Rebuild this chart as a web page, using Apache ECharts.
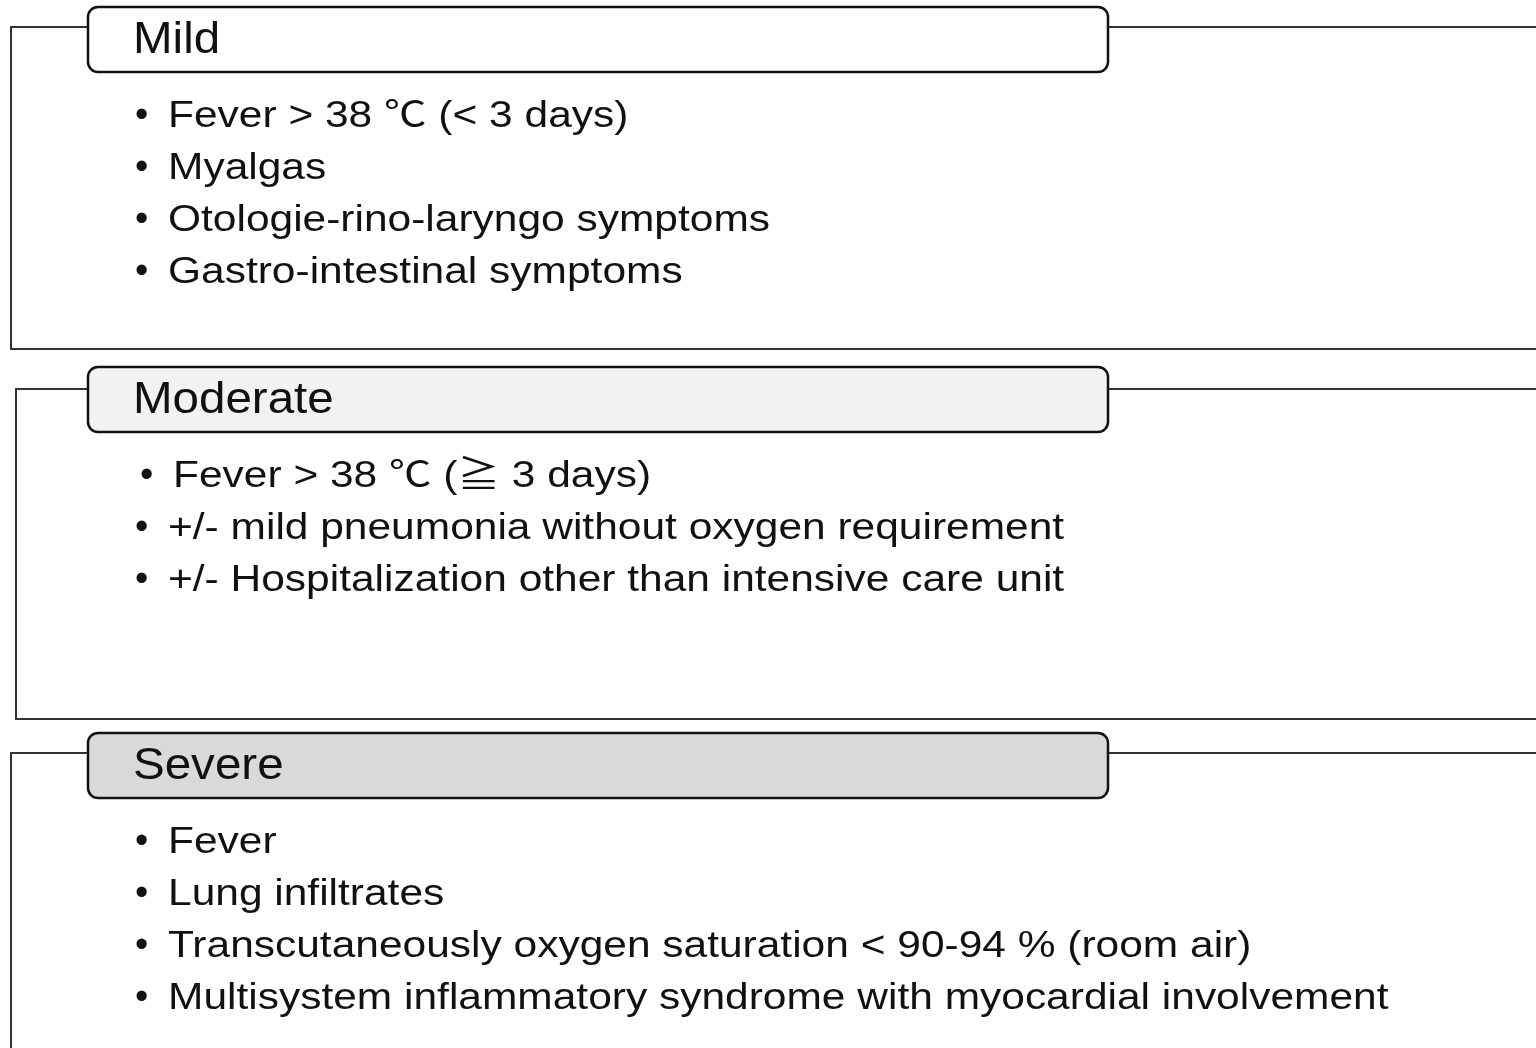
<!DOCTYPE html>
<html>
<head>
<meta charset="utf-8">
<title>Severity</title>
<script src="https://cdn.jsdelivr.net/npm/echarts@6/dist/echarts.min.js"></script>
<style>
html,body{margin:0;padding:0;background:#fff;}
#main{width:1536px;height:1048px;}
</style>
</head>
<body>
<div id="main"></div>
<script type="text/javascript">
// data
var levels = ['Mild', 'Moderate', 'Severe'];
var mildItems = [
    'Fever > 38 ℃ (< 3 days)',
    'Myalgas',
    'Otologie-rino-laryngo symptoms',
    'Gastro-intestinal symptoms'
];
var moderateItems = [
    'Fever > 38 ℃ (≧ 3 days)',
    '+/- mild pneumonia without oxygen requirement',
    '+/- Hospitalization other than intensive care unit'
];
var severeItems = [
    'Fever',
    'Lung infiltrates',
    'Transcutaneously oxygen saturation < 90-94 % (room air)',
    'Multisystem inflammatory syndrome with myocardial involvement'
];
var itemLists = [mildItems, moderateItems, severeItems];

// layout
var headerFill = ['#ffffff', '#f2f2f2', '#d9d9d9'];
var headerTop = [7, 367, 733];
var frameTop = [27, 389, 753];
var frameBottom = [349, 719, 1070];
var frameLeft = [11, 16, 11];
var firstIndent = [0, 5, 0];
var FONT = '"Liberation Sans", Arial, "Noto Sans CJK KR", sans-serif';

var g = [];
levels.forEach(function (name, i) {
    // outer frame
    g.push({
        type: 'polyline',
        shape: { points: [[1540, frameTop[i]], [frameLeft[i], frameTop[i]], [frameLeft[i], frameBottom[i]], [1540, frameBottom[i]]] },
        style: { stroke: '#333', lineWidth: 2, fill: null }
    });
    // header box
    g.push({
        type: 'rect',
        shape: { x: 88, y: headerTop[i], width: 1020, height: 65, r: 10 },
        style: { fill: headerFill[i], stroke: '#111', lineWidth: 2.5 }
    });
    g.push({
        type: 'text',
        x: 133, y: headerTop[i] + 34, scaleX: 1.08,
        style: { text: name, x: 0, y: 0, fontSize: 44, fontFamily: FONT, fill: '#111', verticalAlign: 'middle' }
    });
    itemLists[i].forEach(function (t, j) {
        var y = headerTop[i] + 110 + j * 52;
        var dx = j === 0 ? firstIndent[i] : 0;
        g.push({
            type: 'text',
            style: { text: '•', x: 135 + dx, y: y, fontSize: 38, fontFamily: FONT, fill: '#111', verticalAlign: 'middle' }
        });
        g.push({
            type: 'text',
            x: 168 + dx, y: y, scaleX: 1.18,
            style: { text: t, x: 0, y: 0, fontSize: 36, fontFamily: FONT, fill: '#111', verticalAlign: 'middle' }
        });
    });
});

var myChart = echarts.init(document.getElementById('main'));
myChart.setOption({
    backgroundColor: '#fff',
    animation: false,
    graphic: g
});
</script>
</body>
</html>
